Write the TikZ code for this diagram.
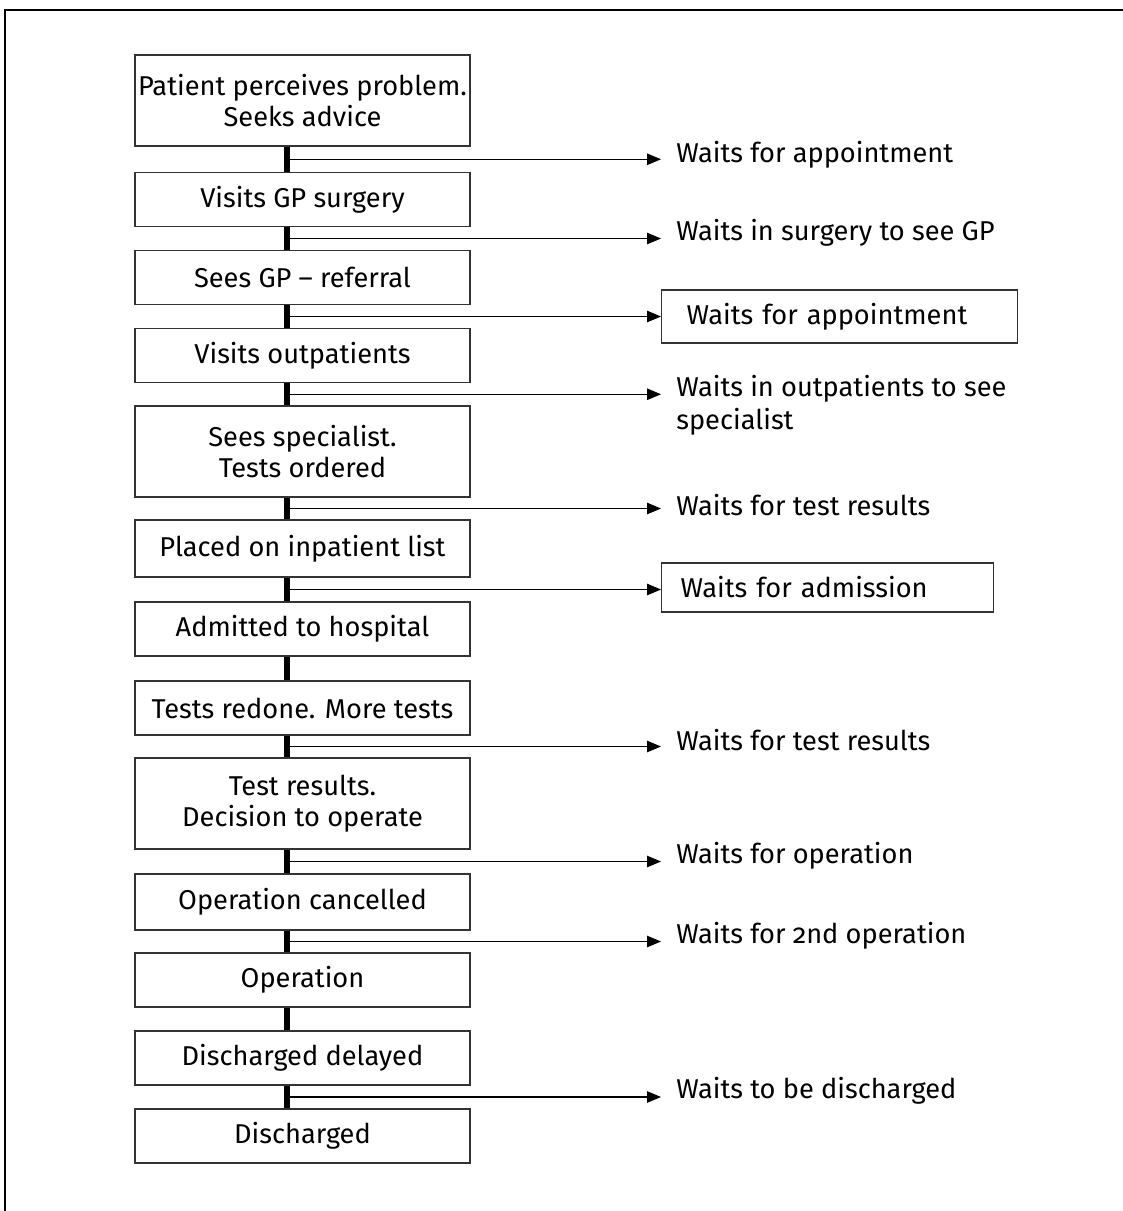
\documentclass[tikz,border=0pt]{standalone}
\usepackage{fontspec}
\setmainfont[Numbers=OldStyle]{Fira Sans}
\usetikzlibrary{calc,arrows.meta}

\tikzset{
  stepbox/.style={draw=black!80, line width=0.8pt, minimum width=6.7cm, minimum height=1.08cm, align=center, inner sep=0pt, font=\fontsize{15.5}{18}\selectfont},
  tallbox/.style={stepbox, minimum height=1.82cm},
  waitnote/.style={anchor=west, align=left, inner xsep=0.3cm, inner ysep=0pt, font=\fontsize{15.5}{19}\selectfont},
  waitbox/.style={waitnote, draw=black!80, line width=0.8pt, inner xsep=0.5cm},
  spine/.style={line width=3.3pt},
  waitline/.style={line width=0.6pt, -{Triangle[length=0.28cm,width=0.23cm]}}
}

\begin{document}
\begin{tikzpicture}[x=0.02cm, y=-0.02cm]
        \useasboundingbox (0,0) rectangle (1123,1211);
        %Cadre
        \draw [line width=1.2pt] (5,1240) -- (5,10) -- (1140,10);
        %Etapes
        \node [tallbox] (b1) at (302.5,100.5) {Patient perceives problem.\\Seeks advice};
        \node [stepbox] (b2) at (302.5,199.5) {Visits GP surgery};
        \node [stepbox] (b3) at (302.5,277.5) {Sees GP -- referral};
        \node [stepbox] (b4) at (302.5,355.5) {Visits outpatients};
        \node [tallbox] (b5) at (302.5,451.5) {Sees specialist.\\Tests ordered};
        \node [stepbox, minimum height=1.14cm] (b6) at (302.5,548.5) {Placed on inpatient list};
        \node [stepbox] (b7) at (302.5,629) {Admitted to hospital};
        \node [stepbox] (b8) at (302.5,708) {Tests redone. More tests};
        \node [tallbox] (b9) at (302.5,803.5) {Test results.\\Decision to operate};
        \node [stepbox, minimum height=1.12cm] (b10) at (302.5,902) {Operation cancelled};
        \node [stepbox] (b11) at (302.5,980) {Operation};
        \node [stepbox] (b12) at (302.5,1058) {Discharged delayed};
        \node [stepbox] (b13) at (302.5,1136) {Discharged};
        %Attentes
        \node [waitnote] (w1) at (661,155) {Waits for appointment};
        \node [waitnote] (w2) at (661,233) {Waits in surgery to see GP};
        \node [waitbox, text width=6.12cm, minimum height=1.06cm] (w3) at (661,316.5) {Waits for appointment};
        \node [waitnote] (w4) at (661,405) {Waits in outpatients to see\\specialist};
        \node [waitnote] (w5) at (661,505) {Waits for test results};
        \node [waitbox, inner xsep=0.38cm, text width=5.88cm, minimum height=0.98cm] (w6) at (661,587.5) {Waits for admission};
        \node [waitnote] (w7) at (661,740) {Waits for test results};
        \node [waitnote] (w8) at (661,856) {Waits for operation};
        \node [waitnote] (w9) at (661,936) {Waits for 2nd operation};
        \node [waitnote] (w10) at (661,1091) {Waits to be discharged};
        %Traits
        \coordinate (axis) at (287,0);
        \foreach \a/\b in {b1/b2,b2/b3,b3/b4,b4/b5,b5/b6,b6/b7,b7/b8,b8/b9,b9/b10,b10/b11,b11/b12,b12/b13}
          \draw [spine] (\a.south -| axis) -- (\b.north -| axis);
        %Fleches
        \foreach \a/\b/\w in {b1/b2/w1,b2/b3/w2,b3/b4/w3,b4/b5/w4,b5/b6/w5,b6/b7/w6,b8/b9/w7,b9/b10/w8,b10/b11/w9,b12/b13/w10}{
          \path ($(\a.south -| axis)!0.5!(\b.north -| axis)$) coordinate (j);
          \draw [waitline] (j) -- (j -| \w.west);
        }
\end{tikzpicture}
\end{document}
